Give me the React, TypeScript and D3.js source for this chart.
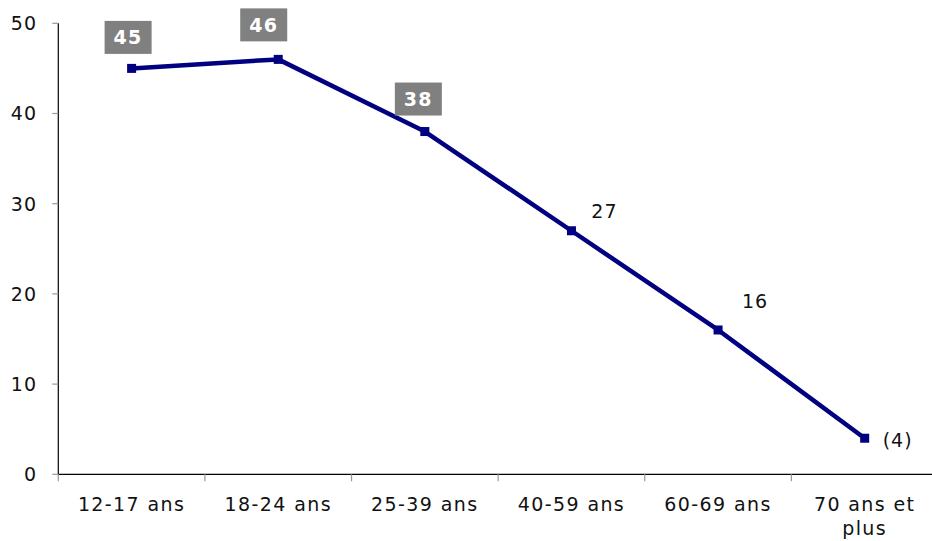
import React from "react";
import * as d3 from "d3";

const categories = ["12-17 ans", "18-24 ans", "25-39 ans", "40-59 ans", "60-69 ans", "70 ans et plus"];
const values = [45, 46, 38, 27, 16, 4];
const labels = ["45", "46", "38", "27", "16", "(4)"];
const boxed = [true, true, true, false, false, false];
const yTicks = [0, 10, 20, 30, 40, 50];

const W = 932;
const H = 541;
const FONT = "'DejaVu Sans', Verdana, sans-serif";

export default function App() {
  const x0 = 58.3;
  const x1 = 938;
  const y0 = 474.3;
  const y1 = 23.3;
  const x = d3.scaleBand<string>().domain(categories).range([x0, x1]).padding(0);
  const y = d3.scaleLinear().domain([0, 50]).range([y0, y1]);
  const cx = (c: string) => (x(c) as number) + x.bandwidth() / 2;
  const line = d3
    .line<number>()
    .x((_, i) => cx(categories[i]))
    .y((d) => y(d));

  // label layout offsets (relative to point)
  const lab = [
    { dx: -3.5, dy: -31 },
    { dx: -14.5, dy: -34.5 },
    { dx: -6.5, dy: -32.5 },
    { dx: 33, dy: -13 },
    { dx: 37, dy: -21.5 },
    { dx: 18, dy: 9 },
  ];

  const tickColor = "#999";
  return (
    <svg
      width={W}
      height={H}
      style={{ position: "absolute", left: 0, top: 0, background: "#fff" }}
      fontFamily={FONT}
    >
      {/* y axis */}
      <line x1={x0} x2={x0} y1={y1} y2={y0} stroke="#000" strokeWidth={1.2} />
      {yTicks.map((t) => (
        <g key={t}>
          <line x1={x0 - 6} x2={x0} y1={y(t)} y2={y(t)} stroke={tickColor} strokeWidth={1.2} />
          <text
            x={37}
            y={y(t)}
            dy="0.36em"
            textAnchor="end"
            fontSize={19}
            letterSpacing={1}
            fill="#111"
          >
            {t}
          </text>
        </g>
      ))}
      {/* x axis */}
      <line x1={x0} x2={x1} y1={y0} y2={y0} stroke="#000" strokeWidth={1.2} />
      {categories.map((c, i) => (
        <line
          key={"t" + i}
          x1={x(c) as number}
          x2={x(c) as number}
          y1={y0}
          y2={y0 + 7}
          stroke={tickColor}
          strokeWidth={1.2}
        />
      ))}
      {categories.map((c, i) => {
        const words = c === "70 ans et plus" ? ["70 ans et", "plus"] : [c];
        return (
          <text
            key={"c" + i}
            x={cx(c)}
            y={511}
            textAnchor="middle"
            fontSize={19}
            letterSpacing={1.4}
            fill="#111"
          >
            {words.map((w, k) => (
              <tspan key={k} x={cx(c)} dy={k === 0 ? 0 : 24}>
                {w}
              </tspan>
            ))}
          </text>
        );
      })}
      {/* line */}
      <path d={line(values) || ""} fill="none" stroke="#000080" strokeWidth={4.5} strokeLinejoin="round" />
      {values.map((v, i) => (
        <rect
          key={"m" + i}
          x={cx(categories[i]) - 4.5}
          y={y(v) - 4.5}
          width={9}
          height={9}
          fill="#000080"
        />
      ))}
      {/* labels */}
      {values.map((v, i) => {
        const px = cx(categories[i]);
        const py = y(v);
        if (boxed[i]) {
          const bx = px + lab[i].dx;
          const by = py + lab[i].dy;
          return (
            <g key={"l" + i}>
              <rect x={bx - 23.5} y={by - 16.5} width={47} height={33} fill="#808080" />
              <text
                x={bx}
                y={by}
                dy="0.36em"
                textAnchor="middle"
                fontSize={19}
                fontWeight="bold"
                letterSpacing={1.3}
                fill="#fff"
              >
                {labels[i]}
              </text>
            </g>
          );
        }
        const anchor = i === values.length - 1 ? "start" : "middle";
        return (
          <text
            key={"l" + i}
            x={px + lab[i].dx}
            y={py + lab[i].dy}
            textAnchor={anchor}
            fontSize={19}
            letterSpacing={1}
            fill="#111"
          >
            {labels[i]}
          </text>
        );
      })}
    </svg>
  );
}
